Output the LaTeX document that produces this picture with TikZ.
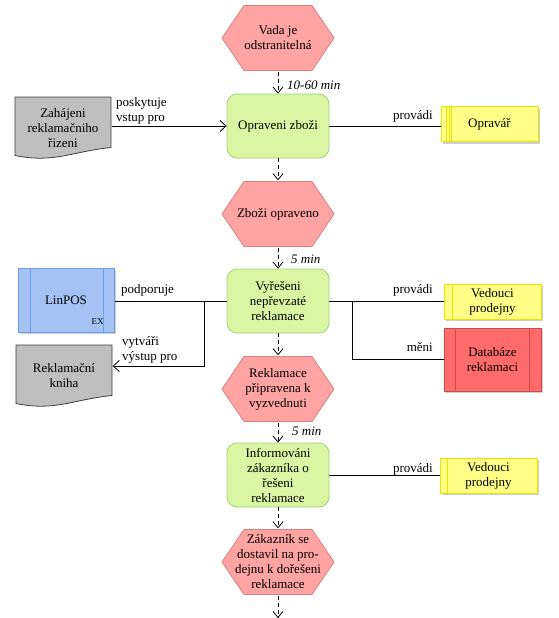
\documentclass[tikz,border=0pt]{standalone}
\usepackage{fontspec}
\setmainfont{Liberation Serif}
\usetikzlibrary{arrows.meta,calc}

\definecolor{hexfill}{HTML}{FFA3A3}
\definecolor{hexdraw}{HTML}{D98080}
\definecolor{funfill}{HTML}{D9F7A3}
\definecolor{fundraw}{HTML}{A8CF78}
\definecolor{docfill}{HTML}{BFBFBF}
\definecolor{docdraw}{HTML}{404040}
\definecolor{yelfill}{HTML}{FFFF88}
\definecolor{yeldraw}{HTML}{E6E600}
\definecolor{blufill}{HTML}{A4C2F4}
\definecolor{bludraw}{HTML}{6D9EEB}
\definecolor{redfill}{HTML}{FF6B6B}
\definecolor{reddraw}{HTML}{C84C4C}
\definecolor{shadcol}{HTML}{B0B0B0}

\tikzset{
  basefont/.style={font=\fontsize{13}{15}\selectfont},
  hexa/.style={basefont, minimum width=114pt, minimum height=67pt, inner sep=0pt, align=center,
    path picture={
      \path[fill=hexfill, draw=hexdraw, line width=0.8pt]
        ($(path picture bounding box.north west)+(23,1)$) --
        ($(path picture bounding box.north east)+(-23,1)$) --
        ($(path picture bounding box.east)+(-1,0)$) --
        ($(path picture bounding box.south east)+(-23,-1)$) --
        ($(path picture bounding box.south west)+(23,-1)$) --
        ($(path picture bounding box.west)+(1,0)$) -- cycle;}},
  fun/.style={basefont, rectangle, rounded corners=10pt, fill=funfill, draw=fundraw, line width=0.8pt,
    minimum width=102pt, minimum height=64pt, inner sep=2pt, align=center},
  docu/.style={basefont, minimum width=97pt, minimum height=63pt, inner sep=0pt, align=center,
    path picture={
      \path[fill=docfill, draw=docdraw, line width=0.8pt]
        let \p1=(path picture bounding box.north west), \p2=(path picture bounding box.south east) in
        (\x1+0.5pt,\y1-0.5pt) -- (\x2-0.5pt,\y1-0.5pt) -- (\x2-0.5pt,\y2+12pt)
        .. controls (\x2-40pt,\y2+8pt) and (\x1+40pt,\y2-4pt) .. (\x1+0.5pt,\y2+4pt) -- cycle;}},
  shad/.style={preaction={draw=none, fill=shadcol, fill opacity=0.6, transform canvas={shift={(2pt,-2pt)}}}},
  yel/.style={basefont, rectangle, fill=yelfill, draw=yeldraw, line width=1pt, minimum width=97pt,
    minimum height=35pt, inner sep=1pt, align=center, shad},
  blu/.style={basefont, rectangle, fill=blufill, draw=bludraw, line width=1pt, minimum width=96pt,
    minimum height=64pt, inner sep=1pt, align=center, shad},
  dbx/.style={basefont, rectangle, fill=redfill, draw=reddraw, line width=1pt, minimum width=97pt,
    minimum height=63pt, inner sep=1pt, align=center, shad},
  lbl/.style={basefont, inner sep=0pt, align=left},
  tim/.style={font=\fontsize{13}{15}\selectfont\itshape, inner sep=0pt},
  dasharr/.style={line width=0.8pt, dash pattern=on 4pt off 3pt, -{Straight Barb[length=6pt,width=10pt]}},
  solarr/.style={line width=0.8pt, -{Straight Barb[length=6pt,width=11pt]}},
  conn/.style={line width=0.8pt}
}

\begin{document}
\begin{tikzpicture}[x=1pt,y=-1pt]
\fill[white] (0,0) rectangle (558,618);
\useasboundingbox (0,0) rectangle (558,618);

% main chain
\node[hexa] (h1) at (278,38) {Vada je\\odstranitelná};
\node[fun]  (f1) at (278,126) {Opraveni zboži};
\node[hexa] (h2) at (278,214) {Zboži opraveno};
\node[fun]  (f2) at (278,301) {Vyřešeni\\nepřevzaté\\reklamace};
\node[hexa] (h3) at (278,389) {Reklamace\\připravena k\\vyzvednuti};
\node[fun]  (f3) at (278,475) {Informováni\\zákazníka o\\řešeni\\reklamace};
\node[hexa] (h4) at (278,562) {Zákazník se\\dostavil na pro-\\dejnu k dořešeni\\reklamace};
\coordinate (endc) at (278,618);

% left side
\node[docu] (d1) at (63,128) {Zahájeni\\reklamačniho\\řizeni};
\node[blu]  (L)  at (66,300) {LinPOS};
\node[font=\fontsize{9}{10}\selectfont, inner sep=0pt] (ex) at ($(L.south east)+(-17,-11)$) {EX};
\node[docu] (d2) at (64,376) {Reklamační\\kniha};

% right side
\node[yel] (r1) at (489.5,124) {Opravář};
\node[yel] (r2) at (492.5,301.5) {Vedouci\\prodejny};
\node[dbx] (db) at (492.5,359.5) {Databáze\\reklamaci};
\node[yel] (r3) at (488.5,475.5) {Vedouci\\prodejny};

% inner lines of resource boxes
\draw[yeldraw, line width=0.6pt] ($(r1.north west)+(6,0)$) -- ($(r1.south west)+(6,0)$);
\draw[yeldraw, line width=0.6pt] ($(r1.north west)+(8.5,0)$) -- ($(r1.south west)+(8.5,0)$);
\draw[yeldraw, line width=0.6pt] ($(r1.north west)+(11,0)$) -- ($(r1.south west)+(11,0)$);
\draw[yeldraw, line width=0.8pt] ($(r2.north west)+(9,0)$) -- ($(r2.south west)+(9,0)$);
\draw[yeldraw, line width=0.8pt] ($(r3.north west)+(8,0)$) -- ($(r3.south west)+(8,0)$);
\draw[bludraw, line width=0.8pt] ($(L.north west)+(13,0)$) -- ($(L.south west)+(13,0)$);
\draw[bludraw, line width=0.8pt] ($(L.north east)+(-11,0)$) -- ($(L.south east)+(-11,0)$);
\draw[reddraw, line width=0.8pt] ($(db.north west)+(12,0)$) -- ($(db.south west)+(12,0)$);
\draw[reddraw, line width=0.8pt] ($(db.north east)+(-12,0)$) -- ($(db.south east)+(-12,0)$);

% flow arrows
\draw[dasharr] (h1) -- (f1);
\draw[dasharr] (f1) -- (h2);
\draw[dasharr] (h2) -- (f2);
\draw[dasharr] (f2) -- (h3);
\draw[dasharr] (h3) -- (f3);
\draw[dasharr] (f3) -- (h4);
\draw[dasharr] (h4) -- (endc);

% connectors
\draw[solarr] (f1.west -| d1.east) -- (f1.west);
\draw[conn] (f1.east) -- (f1.east -| r1.west);

\draw[conn] (f2.west -| L.east) -- (f2.west);
\coordinate (b1) at (204,301);
\coordinate (b2) at (204,366);
\draw[solarr] (b1) -- (b2) -- (b2 -| d2.east);

\draw[conn] (f2.east) -- (f2.east -| r2.west);
\coordinate (b3) at (352,301);
\draw[conn] (b3) |- (db.west);

\draw[conn] (f3.east) -- (f3.east -| r3.west);

% labels
\node[lbl, anchor=north west] (lb1) at (116,97) {poskytuje\\vstup pro};
\node[lbl, anchor=base east] (lb2) at (433,119) {provádi};
\node[lbl, anchor=base west] (lb3) at (121,293) {podporuje};
\node[lbl, anchor=north west] (lb4) at (122,336) {vytváři\\výstup pro};
\node[lbl, anchor=base east] (lb5) at (433,293) {provádi};
\node[lbl, anchor=base east] (lb6) at (433,351) {měni};
\node[lbl, anchor=base east] (lb7) at (433,472) {provádi};

\node[tim, anchor=base west] (t1) at (287,89) {10-60 min};
\node[tim, anchor=base west] (t2) at (291,263) {5 min};
\node[tim, anchor=base west] (t3) at (292,435) {5 min};
\end{tikzpicture}
\end{document}
